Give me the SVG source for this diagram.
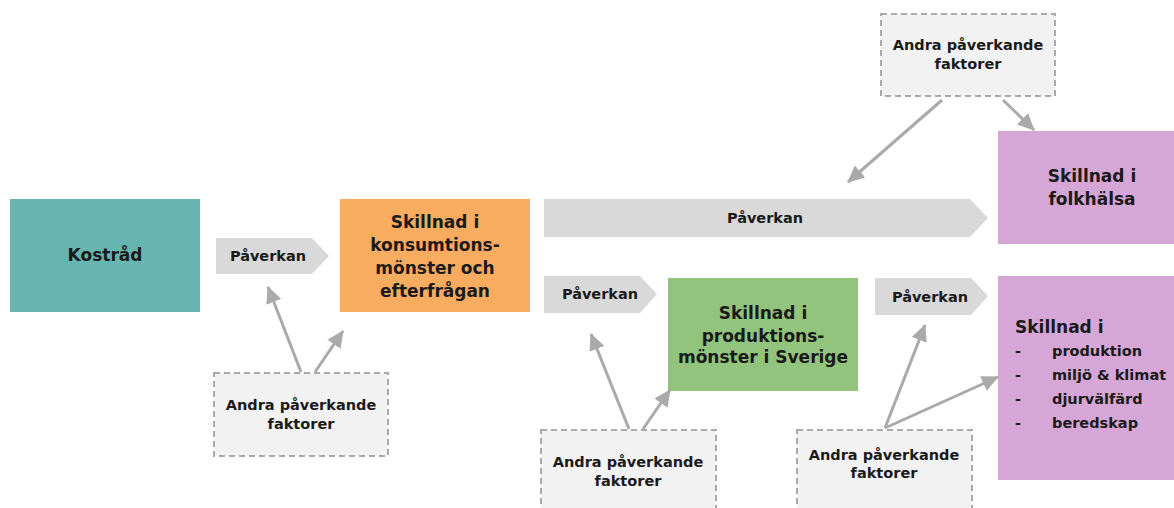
<svg xmlns="http://www.w3.org/2000/svg" width="1174" height="508" viewBox="0 0 1174 508">
<defs>
<style>
text{font-family:"DejaVu Sans","Open Sans","Liberation Sans",sans-serif;font-weight:700;fill:#1a1a1a;text-anchor:middle}
.big{font-size:17px}
.sm{font-size:14.5px}
.other rect{fill:#F2F2F2;stroke:#AAAAAA;stroke-width:2;stroke-dasharray:6 4}
.pv{fill:#D9D9D9}
.con line{stroke:#AAAAAA;stroke-width:3;fill:none}
.lft{text-anchor:start}
</style>
<marker id="ah" markerUnits="userSpaceOnUse" markerWidth="18" markerHeight="18" viewBox="0 0 18 18" refX="16" refY="9" orient="auto">
<path d="M0,1 L17,9 L0,17 Z" fill="#AAAAAA"/>
</marker>
</defs>

<g id="kostrad">
<rect x="10" y="199" width="190" height="113" fill="#67B5B0"/>
<text class="big" x="105" y="261">Kostråd</text>
</g>

<g id="paverkan1">
<polygon class="pv" points="216,238 312,238 329,256 312,274 216,274"/>
<text class="sm" x="268" y="261">Påverkan</text>
</g>

<g id="konsumtion">
<rect x="340" y="199" width="190" height="113" fill="#F8AC5F"/>
<text class="big" x="435" y="228">Skillnad i</text>
<text class="big" x="435" y="251">konsumtions-</text>
<text class="big" x="435" y="274">mönster och</text>
<text class="big" x="435" y="297">efterfrågan</text>
</g>

<g id="paverkan-stor">
<polygon class="pv" points="544,199 970,199 988,218 970,237 544,237"/>
<text class="sm" x="765" y="223">Påverkan</text>
</g>

<g id="folkhalsa">
<rect x="998" y="131" width="176" height="113" fill="#D6A7D6"/>
<text class="big" x="1092" y="182">Skillnad i</text>
<text class="big" x="1092" y="205">folkhälsa</text>
</g>

<g id="paverkan2">
<polygon class="pv" points="544,276 640,276 657,294 640,313 544,313"/>
<text class="sm" x="600" y="299">Påverkan</text>
</g>

<g id="produktion">
<rect x="668" y="278" width="190" height="113" fill="#93C47D"/>
<text class="big" x="763" y="319">Skillnad i</text>
<text class="big" x="763" y="342">produktions-</text>
<text class="big" x="763" y="363">mönster i Sverige</text>
</g>

<g id="paverkan3">
<polygon class="pv" points="875,278 971,278 988,296 971,315 875,315"/>
<text class="sm" x="930" y="302">Påverkan</text>
</g>

<g id="skillnad-lista">
<rect x="998" y="276" width="176" height="204" fill="#D6A7D6"/>
<text class="big lft" x="1015" y="333">Skillnad i</text>
<text class="sm lft" x="1015" y="356">-</text>
<text class="sm lft" x="1052" y="356">produktion</text>
<text class="sm lft" x="1015" y="380">-</text>
<text class="sm lft" x="1052" y="380">miljö &amp; klimat</text>
<text class="sm lft" x="1015" y="404">-</text>
<text class="sm lft" x="1052" y="404">djurvälfärd</text>
<text class="sm lft" x="1015" y="428">-</text>
<text class="sm lft" x="1052" y="428">beredskap</text>
</g>

<g id="andra-topp" class="other">
<rect x="881" y="14" width="174" height="82"/>
<text class="sm" x="968" y="50">Andra påverkande</text>
<text class="sm" x="968" y="69">faktorer</text>
</g>

<g id="andra-1" class="other">
<rect x="214" y="373" width="174" height="83"/>
<text class="sm" x="301" y="410">Andra påverkande</text>
<text class="sm" x="301" y="429">faktorer</text>
</g>

<g id="andra-2" class="other">
<rect x="541" y="430" width="175" height="82"/>
<text class="sm" x="628" y="467">Andra påverkande</text>
<text class="sm" x="628" y="486">faktorer</text>
</g>

<g id="andra-3" class="other">
<rect x="797" y="430" width="175" height="82"/>
<text class="sm" x="884" y="460">Andra påverkande</text>
<text class="sm" x="884" y="478">faktorer</text>
</g>

<g id="connectors" class="con">
<line x1="942" y1="100" x2="848" y2="182" marker-end="url(#ah)"/>
<line x1="1003" y1="100" x2="1034" y2="130" marker-end="url(#ah)"/>
<line x1="301" y1="372" x2="268" y2="287" marker-end="url(#ah)"/>
<line x1="315" y1="372" x2="343" y2="331" marker-end="url(#ah)"/>
<line x1="629" y1="429" x2="591" y2="334" marker-end="url(#ah)"/>
<line x1="643" y1="429" x2="670" y2="390" marker-end="url(#ah)"/>
<line x1="885" y1="428" x2="925" y2="325" marker-end="url(#ah)"/>
<line x1="885" y1="428" x2="998" y2="377" marker-end="url(#ah)"/>
</g>
</svg>
